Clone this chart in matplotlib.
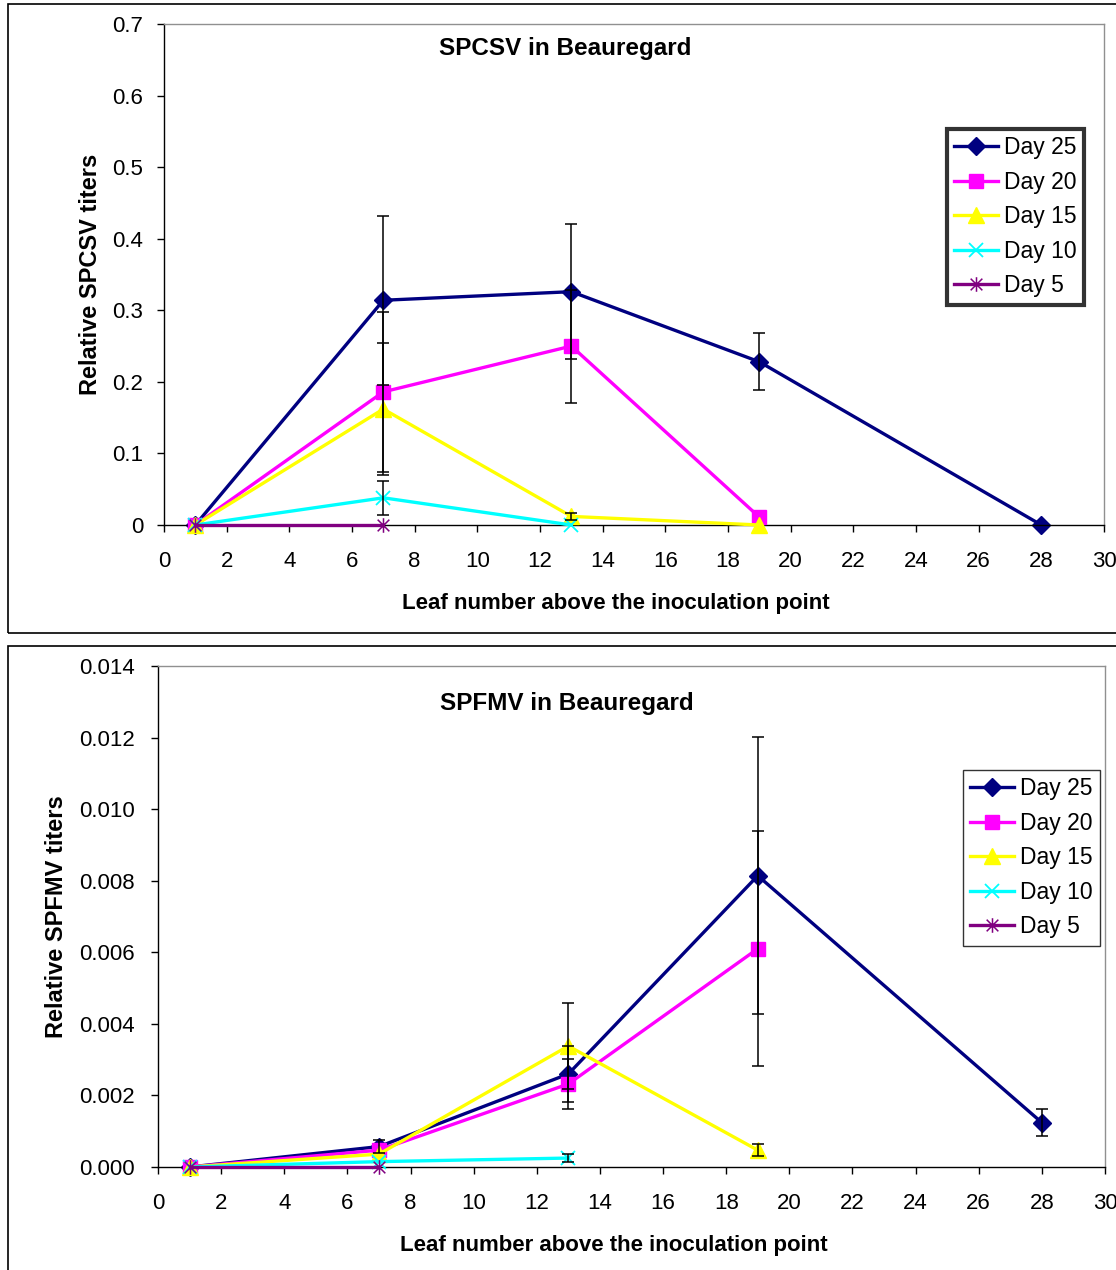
import numpy as np
import matplotlib
matplotlib.use("Agg")
import matplotlib.pyplot as plt
from matplotlib.patches import Rectangle
from matplotlib.path import Path

plt.rcParams['font.family'] = ['Liberation Sans', 'DejaVu Sans']

# ---- data ----
leaf = [1, 7, 13, 19, 28]
series_names = ["Day 25", "Day 20", "Day 15", "Day 10", "Day 5"]

# SPCSV (top panel)
spcsv_d25 = [0, 0.314, 0.326, 0.228, 0]
spcsv_d20 = [0, 0.186, 0.250, 0.011]
spcsv_d15 = [0, 0.162, 0.012, 0]
spcsv_d10 = [0, 0.038, 0]
spcsv_d5 = [0, 0]
spcsv_err_d25 = [0, 0.118, 0.094, 0.040, 0]
spcsv_err_d20 = [0, 0.112, 0.079, 0]
spcsv_err_d15 = [0, 0.092, 0.005, 0]
spcsv_err_d10 = [0, 0.024, 0]
spcsv_err_d5 = [0, 0]

# SPFMV (bottom panel)
spfmv_d25 = [0, 0.00057, 0.0026, 0.00814, 0.00124]
spfmv_d20 = [0, 0.00047, 0.00232, 0.0061]
spfmv_d15 = [0, 0.00036, 0.00338, 0.00047]
spfmv_d10 = [0, 0.00015, 0.00025]
spfmv_d5 = [0, 0]
spfmv_err_d25 = [0, 0.00018, 0.00078, 0.00387, 0.00038]
spfmv_err_d20 = [0, 0, 0.00071, 0.00328]
spfmv_err_d15 = [0, 0, 0.0012, 0.00017]
spfmv_err_d10 = [0, 0, 0.0001]
spfmv_err_d5 = [0, 0]

x_ticks = list(range(0, 31, 2))
top_yticks = [0, 0.1, 0.2, 0.3, 0.4, 0.5, 0.6, 0.7]
top_ytick_labels = ["0", "0.1", "0.2", "0.3", "0.4", "0.5", "0.6", "0.7"]
bot_yticks = [0, 0.002, 0.004, 0.006, 0.008, 0.010, 0.012, 0.014]
bot_ytick_labels = ["0.000", "0.002", "0.004", "0.006", "0.008", "0.010", "0.012", "0.014"]

# ---- styles ----
# asterisk marker: x plus a vertical stroke
ast = Path([(-1, -1), (1, 1), (-1, 1), (1, -1), (0, -1.25), (0, 1.25)],
           [Path.MOVETO, Path.LINETO, Path.MOVETO, Path.LINETO, Path.MOVETO, Path.LINETO])
styles = [
    dict(color="#000080", marker="D", ms=9, mec="#000080", mew=1),
    dict(color="#FF00FF", marker="s", ms=10, mec="#FF00FF", mew=1),
    dict(color="#FFFF00", marker="^", ms=11.5, mec="#FFFF00", mew=1),
    dict(color="#00FFFF", marker="x", ms=10.5, mec="#00FFFF", mew=1.3),
    dict(color="#800080", marker=ast, ms=10.5, mec="#800080", mew=1.1),
]

W, H = 1116, 1270
fig = plt.figure(figsize=(W / 100, H / 100), dpi=100)

# panel frames (run off the right edge like the original)
for (y0, y1) in [(4, 633), (646, 1272)]:
    fig.add_artist(Rectangle((8 / W, 1 - y1 / H), 1.2, (y1 - y0) / H,
                             transform=fig.transFigure, fill=False,
                             edgecolor="black", linewidth=1.2, clip_on=False))


def make_panel(rect, ys, errs, yticks, ylabels, ytop, title, title_xy, ylabel,
               ylabel_x, ypad, legend_xy, legend_lw):
    l, t, r, b = rect
    ax = fig.add_axes([l / W, 1 - b / H, (r - l) / W, (b - t) / H])
    for i, (yv, ev) in enumerate(zip(ys, errs)):
        n = len(yv)
        xs = np.array(leaf[:n])
        yv = np.array(yv)
        ev = np.array(ev)
        st = styles[i]
        ax.plot(xs, yv, linewidth=2.4, color=st["color"], marker=st["marker"],
                markersize=st["ms"], markerfacecolor=st["color"],
                markeredgecolor=st["mec"], markeredgewidth=st["mew"],
                label=series_names[i], zorder=2 + i, clip_on=False)
        m = ev > 0
        if m.any():
            ax.errorbar(xs[m], yv[m], yerr=ev[m], fmt="none", ecolor="black",
                        elinewidth=1.1, capsize=4, capthick=1.1, zorder=10)
    ax.set_xlim(0, 30)
    ax.set_ylim(0, ytop)
    ax.set_xticks(x_ticks)
    ax.set_yticks(yticks)
    ax.set_yticklabels(ylabels)
    ax.tick_params(direction="out", length=5, width=1, labelsize=16)
    ax.tick_params(axis="x", pad=14)
    ax.tick_params(axis="y", pad=ypad)
    for s in ["left", "bottom"]:
        ax.spines[s].set_color("black")
        ax.spines[s].set_linewidth(1)
    for s in ["top", "right"]:
        ax.spines[s].set_color("#909090")
        ax.spines[s].set_linewidth(1)
    ax.text(title_xy[0], title_xy[1], title, transform=ax.transAxes,
            ha="center", va="baseline", fontsize=17.5, fontweight="bold")
    ax.set_ylabel(ylabel, fontsize=17, fontweight="bold")
    ax.yaxis.set_label_coords(ylabel_x, 0.5)
    ax.set_xlabel("Leaf number above the inoculation point", fontsize=16,
                  fontweight="bold")
    ax.xaxis.set_label_coords(0.481, -0.136)
    leg = ax.legend(loc="upper left",
                    bbox_to_anchor=(legend_xy[0] / W, 1 - legend_xy[1] / H),
                    bbox_transform=fig.transFigure, fontsize=16.5, frameon=True,
                    fancybox=False, edgecolor="black", borderaxespad=0,
                    borderpad=0.32, labelspacing=0.5, handlelength=1.9,
                    handletextpad=0.25)
    leg.get_frame().set_linewidth(legend_lw)
    return ax


make_panel((164, 24, 1104, 525),
           [spcsv_d25, spcsv_d20, spcsv_d15, spcsv_d10, spcsv_d5],
           [spcsv_err_d25, spcsv_err_d20, spcsv_err_d15, spcsv_err_d10, spcsv_err_d5],
           top_yticks, top_ytick_labels, 0.7, "SPCSV in Beauregard", (0.427, 0.938),
           "Relative SPCSV titers", -0.066, 10, (947, 129), 3)

make_panel((158, 666, 1105, 1167),
           [spfmv_d25, spfmv_d20, spfmv_d15, spfmv_d10, spfmv_d5],
           [spfmv_err_d25, spfmv_err_d20, spfmv_err_d15, spfmv_err_d10, spfmv_err_d5],
           bot_yticks, bot_ytick_labels, 0.014, "SPFMV in Beauregard", (0.432, 0.912),
           "Relative SPFMV titers", -0.095, 11.5, (963, 770), 1)

fig.savefig("out.png", dpi=100)
